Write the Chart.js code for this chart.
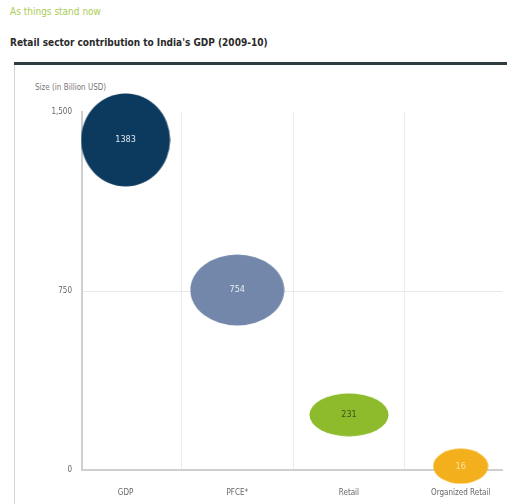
<!DOCTYPE html>
<html>
<head>
<meta charset="utf-8">
<script src="https://cdn.jsdelivr.net/npm/chart.js@4"></script>
<style>
  html, body { margin: 0; padding: 0; background: #fff; overflow: hidden; }
  body { width: 507px; height: 504px; position: relative; font-family: "DejaVu Sans Condensed", "Liberation Sans Narrow", sans-serif; }
  .kicker { position: absolute; left: 10px; top: 6px; font-size: 10px; color: #a9cc55; }
  .headline { position: absolute; left: 10px; top: 37px; font-size: 10px; font-weight: bold; color: #2a2a2a; }
  .rule { position: absolute; left: 14px; top: 62px; width: 493px; height: 3px; background: #2f3b3e; }
  .frame { position: absolute; left: 14px; top: 65px; width: 1px; height: 439px; background: #d4d4d4; }
  .ytitle { position: absolute; left: 35px; top: 83px; font-size: 8px; color: #777; }
  #wrap { position: absolute; left: 15px; top: 66px; width: 492px; height: 438px; }
</style>
</head>
<body>
<div class="kicker">As things stand now</div>
<div class="headline">Retail sector contribution to India's GDP (2009-10)</div>
<div class="rule"></div>
<div class="frame"></div>
<div class="ytitle">Size (in Billion USD)</div>
<div id="wrap"><canvas id="chart"></canvas></div>
<script>
// categories and values (billion USD)
const categories = ['GDP', 'PFCE*', 'Retail', 'Organized Retail'];
const sizeBn = [1383, 754, 231, 16];
const yTicks = [0, 750, 1500];

// bubble look: colour, label colour, ellipse width/height
const fills = ['#0c3a5e', '#7287aa', '#8dbb2c', '#f4b01c'];
const labelColors = ['#dfe8f0', '#e8edf5', '#3d5410', '#fbe3a0'];
const bubbleW = [90, 95, 80, 56];
const bubbleH = [94, 72, 44, 36];

const fontFamily = '"DejaVu Sans Condensed", "Liberation Sans Narrow", sans-serif';

// draw an ellipse onto a small canvas so it can be used as a pointStyle
function ellipse(w, h, color) {
    const c = document.createElement('canvas');
    c.width = w;
    c.height = h;
    const g = c.getContext('2d');
    g.fillStyle = color;
    g.beginPath();
    g.ellipse(w / 2, h / 2, w / 2 - 0.5, h / 2 - 0.5, 0, 0, Math.PI * 2);
    g.fill();
    return c;
}

// value text in the middle of every bubble
const bubbleLabels = {
    id: 'bubbleLabels',
    afterDatasetsDraw(chart) {
        const ctx = chart.ctx;
        const meta = chart.getDatasetMeta(0);
        ctx.save();
        ctx.font = '9px ' + fontFamily;
        ctx.textAlign = 'center';
        ctx.textBaseline = 'middle';
        meta.data.forEach((pt, i) => {
            ctx.fillStyle = labelColors[i];
            ctx.fillText(String(sizeBn[i]), pt.x, pt.y);
        });
        ctx.restore();
    }
};

const tickFont = { family: fontFamily, size: 8 };

new Chart(document.getElementById('chart'), {
    type: 'scatter',
    data: {
        datasets: [{
            data: sizeBn.map((v, i) => ({ x: i, y: v })),
            pointStyle: categories.map((_, i) => ellipse(bubbleW[i], bubbleH[i], fills[i])),
            clip: false
        }]
    },
    options: {
        responsive: true,
        maintainAspectRatio: false,
        animation: false,
        events: [],
        layout: { padding: { top: 46, right: 0, left: 0, bottom: 0 } },
        plugins: { legend: { display: false }, tooltip: { enabled: false } },
        scales: {
            x: {
                type: 'linear',
                min: -0.39,
                max: 3.37,
                afterBuildTicks: s => { s.ticks = categories.map((_, i) => ({ value: i })); },
                afterFit: s => { s.height = 34; },
                grid: { display: false },
                border: { color: '#cfcfcf', width: 2 },
                ticks: {
                    color: '#666',
                    font: tickFont,
                    padding: 10,
                    maxRotation: 0,
                    callback: v => categories[v]
                }
            },
            // separators between the categories
            xSep: {
                type: 'linear',
                position: 'top',
                min: -0.39,
                max: 3.37,
                afterBuildTicks: s => { s.ticks = [0.5, 1.5, 2.5].map(v => ({ value: v })); },
                afterFit: s => { s.height = 0; },
                border: { display: false },
                grid: { color: '#ececec', drawTicks: false },
                ticks: { display: false }
            },
            y: {
                min: 0,
                max: 1500,
                afterBuildTicks: s => { s.ticks = yTicks.map(v => ({ value: v })); },
                afterFit: s => { s.width = 67; },
                border: { color: '#cfcfcf', width: 2 },
                grid: {
                    color: ctx => ctx.tick && ctx.tick.value === 750 ? '#e8e8e8' : 'rgba(0,0,0,0)',
                    drawTicks: false
                },
                ticks: {
                    color: '#666',
                    font: tickFont,
                    padding: 10,
                    callback: v => v.toLocaleString('en-US')
                }
            }
        }
    },
    plugins: [bubbleLabels]
});
</script>
</body>
</html>
